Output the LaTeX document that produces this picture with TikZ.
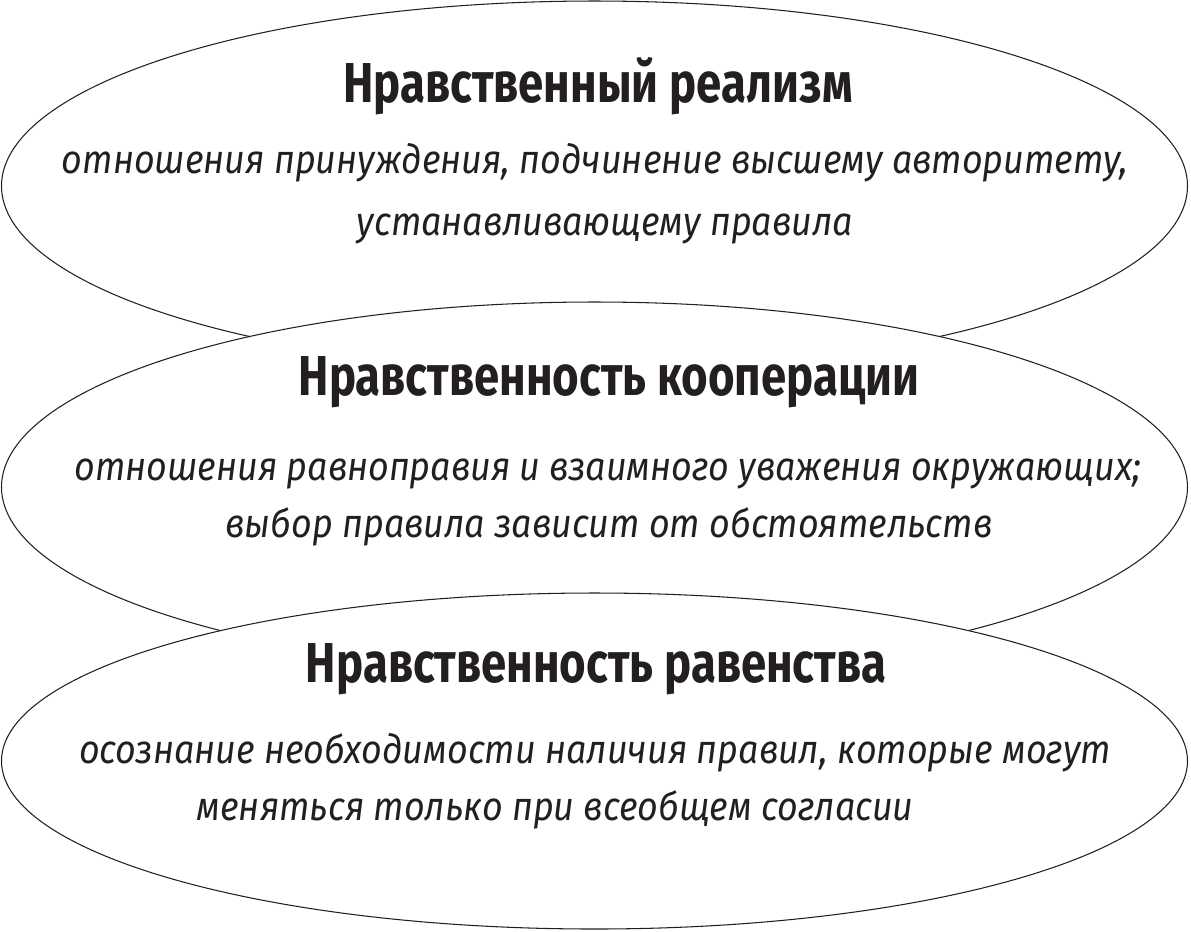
\documentclass[tikz,border=0pt]{standalone}
\usepackage{fontspec}
\setmainfont{Fira Sans}
\newfontfamily\headfont[FakeStretch=0.81]{Fira Sans}
\newfontfamily\notefont[FakeStretch=0.895]{Fira Sans}
\definecolor{ink}{HTML}{231F20}

\begin{document}
\begin{tikzpicture}[
    title/.style={anchor=base, font=\headfont\bfseries\fontsize{16}{18}\selectfont, text=ink, inner sep=0pt},
    note/.style={anchor=base, font=\notefont\itshape\fontsize{11.4}{13}\selectfont, text=ink, inner sep=0pt},
    oval/.style={draw=ink, line width=0.3pt, fill=white}
  ]
  \useasboundingbox (0,0) rectangle (11.91,-9.31);

  \draw[oval] (5.945,-1.86) ellipse (5.93 and 1.85);
  \node[title] (realism) at (5.98,-1.02) {Нравственный реализм};
  \node[note] (realismA) at (5.95,-1.73) {отношения принуждения, подчинение высшему авторитету,};
  \node[note] (realismB) at (6.05,-2.35) {устанавливающему правила};

  \draw[oval] (5.945,-4.87) ellipse (5.93 and 1.85);
  \node[title] (coop) at (6.09,-3.95) {Нравственность кооперации};
  \node[note] (coopA) at (6.08,-4.80) {отношения равноправия и взаимного уважения окружающих;};
  \node[note] (coopB) at (6.09,-5.37) {выбор правила зависит от обстоятельств};

  \draw[oval] (5.945,-7.61) ellipse (5.93 and 1.68);
  \node[title] (equal) at (5.96,-6.82) {Нравственность равенства};
  \node[note] (equalA) at (5.95,-7.63) {осознание необходимости наличия правил, которые могут};
  \node[note] (equalB) at (5.55,-8.20) {меняться только при всеобщем согласии};
\end{tikzpicture}
\end{document}
